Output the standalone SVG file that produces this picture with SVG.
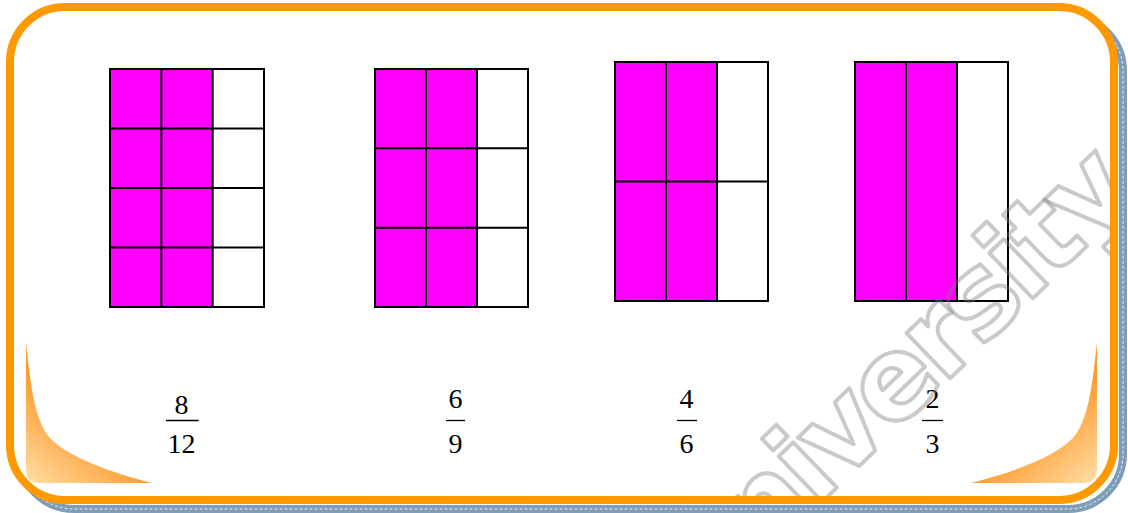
<svg xmlns="http://www.w3.org/2000/svg" width="1128" height="513" viewBox="0 0 1128 513">
<style>
.cell{fill:#FF00FF}
.gl{stroke:#000;stroke-width:2;fill:none}
.num{font-family:"Liberation Serif","Times New Roman",serif;font-size:28px;fill:#000;text-anchor:middle}
.bar{stroke:#000;stroke-width:1.3}
.wm{font-family:"DejaVu Sans","Liberation Sans",sans-serif;font-weight:bold;font-size:115px;letter-spacing:-5px;fill:none;stroke:#7A7A7A;stroke-opacity:0.4;stroke-width:4;stroke-linejoin:round}
</style>
<defs>
<linearGradient id="gL" gradientUnits="userSpaceOnUse" x1="30" y1="480" x2="80" y2="420">
<stop offset="0" stop-color="#FFDBA0"/>
<stop offset="1" stop-color="#FF9B2E"/>
</linearGradient>
<clipPath id="inner"><rect x="14" y="11" width="1096" height="485" rx="51"/></clipPath>
</defs>
<g id="frame-back">
<rect x="19" y="16" width="1104" height="493" rx="55" fill="none" stroke="#7F9CB8" stroke-width="8"/>
<rect x="19" y="16" width="1104" height="493" rx="55" fill="none" stroke="#FFFFFF" stroke-width="0.8" stroke-dasharray="3 2"/>
<rect x="10" y="7" width="1104" height="493" rx="55" fill="#FFFFFF"/>
</g>
<g id="corner-left">
<path d="M26,342 C30,380 34,420 50,438 C70,458 110,472 152,483 L40,483 Q26,483 26,469 Z" fill="url(#gL)"/>
</g>
<g id="corner-right" transform="translate(1123,0) scale(-1,1)">
<path d="M26,342 C30,380 34,420 50,438 C70,458 110,472 152,483 L40,483 Q26,483 26,469 Z" fill="url(#gL)"/>
</g>
<g id="grid-8-12">
<rect class="cell" x="110" y="69" width="102.7" height="238"/>
<rect class="gl" x="110" y="69" width="154" height="238"/>
<path class="gl" d="M161.3,69V307M212.7,69V307M110,128.5H264M110,188H264M110,247.5H264"/>
</g>
<g id="grid-6-9">
<rect class="cell" x="375" y="69" width="102" height="238"/>
<rect class="gl" x="375" y="69" width="153" height="238"/>
<path class="gl" d="M426,69V307M477,69V307M375,148.3H528M375,227.7H528"/>
</g>
<g id="grid-4-6">
<rect class="cell" x="615" y="62" width="102" height="239"/>
<rect class="gl" x="615" y="62" width="153" height="239"/>
<path class="gl" d="M666,62V301M717,62V301M615,181.5H768"/>
</g>
<g id="grid-2-3">
<rect class="cell" x="855" y="62" width="102" height="239"/>
<rect class="gl" x="855" y="62" width="153" height="239"/>
<path class="gl" d="M906,62V301M957,62V301"/>
</g>
<g id="frac-8-12">
<text class="num" x="181.5" y="413.5">8</text>
<line class="bar" x1="166" y1="420.5" x2="198.5" y2="420.5"/>
<text class="num" x="181.5" y="453">12</text>
</g>
<g id="frac-6-9">
<text class="num" x="455.5" y="408">6</text>
<line class="bar" x1="446" y1="420.5" x2="465" y2="420.5"/>
<text class="num" x="455.5" y="453">9</text>
</g>
<g id="frac-4-6">
<text class="num" x="686.5" y="407.5">4</text>
<line class="bar" x1="677" y1="420.5" x2="697" y2="420.5"/>
<text class="num" x="686.5" y="453">6</text>
</g>
<g id="frac-2-3">
<text class="num" x="932.5" y="408">2</text>
<line class="bar" x1="922" y1="420.5" x2="943" y2="420.5"/>
<text class="num" x="932.5" y="453">3</text>
</g>
<g id="watermark" clip-path="url(#inner)">
<text class="wm" transform="translate(705,615) rotate(-44)">university</text>
</g>
<g id="frame-border">
<rect x="10" y="7" width="1104" height="493" rx="55" fill="none" stroke="#FF9900" stroke-width="8"/>
</g>
</svg>
